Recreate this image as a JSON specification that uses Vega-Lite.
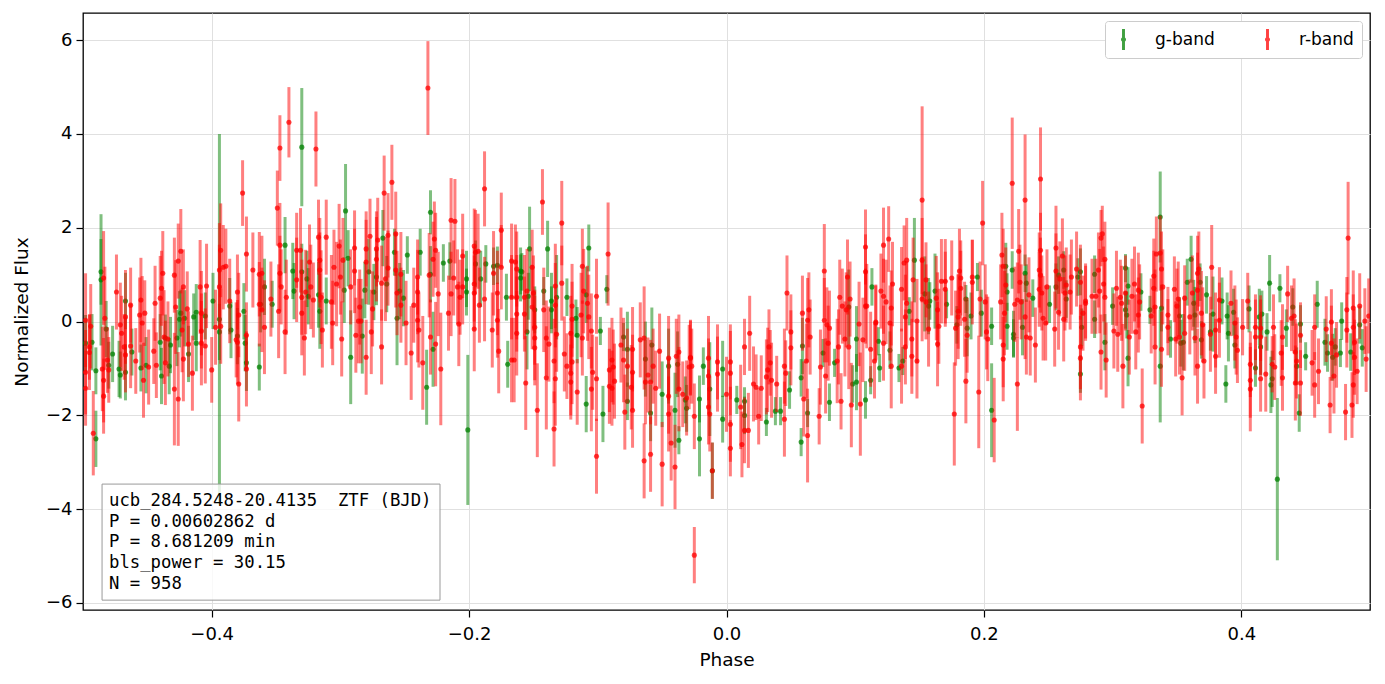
{
"$schema": "https://vega.github.io/schema/vega-lite/v6.json",
"width": 1287, "height": 597,
"autosize": {"type": "none"},
"padding": {"left": 83, "top": 13, "right": 15, "bottom": 74},
"background": "white",
"config": {
 "font": "DejaVu Sans",
 "view": {"stroke": "#000", "strokeWidth": 1.3},
 "axis": {"labelFontSize": 18, "titleFontSize": 18.5, "titleFontWeight": "normal", "labelColor": "#000", "titleColor": "#000", "tickColor": "#000", "tickSize": 7, "tickWidth": 1.2, "domain": false, "gridColor": "#e0e0e0", "gridWidth": 1}
},
"datasets": {
"g": [
{"p":-0.498,"f":-0.46,"e":0.6},{"p":-0.493,"f":-0.44,"e":0.6},{"p":-0.49,"f":-2.5,"e":0.6},{"p":-0.49,"f":-1.05,"e":0.5},{"p":-0.486,"f":1.06,"e":0.7},{"p":-0.486,"f":0.89,"e":1.4},{"p":-0.482,"f":-0.16,"e":0.6},{"p":-0.48,"f":-0.93,"e":0.5},{"p":-0.477,"f":-0.69,"e":0.6},{"p":-0.472,"f":-1.01,"e":0.6},{"p":-0.471,"f":-1.14,"e":0.5},{"p":-0.467,"f":0.44,"e":0.6},{"p":-0.467,"f":-1.08,"e":0.6},{"p":-0.462,"f":-0.65,"e":0.5},{"p":-0.455,"f":-0.99,"e":0.5},{"p":-0.451,"f":-0.93,"e":0.6},{"p":-0.44,"f":-0.44,"e":0.6},{"p":-0.439,"f":-1.16,"e":0.6},{"p":-0.436,"f":-0.35,"e":0.5},{"p":-0.432,"f":-0.5,"e":0.6},{"p":-0.433,"f":-0.95,"e":0.6},{"p":-0.427,"f":-0.35,"e":0.6},{"p":-0.425,"f":0.05,"e":0.6},{"p":-0.424,"f":0.18,"e":0.5},{"p":-0.421,"f":0.07,"e":0.6},{"p":-0.418,"f":-0.69,"e":0.6},{"p":-0.414,"f":0.1,"e":0.5},{"p":-0.412,"f":0.2,"e":0.6},{"p":-0.412,"f":-0.46,"e":0.6},{"p":-0.405,"f":0.12,"e":0.5},{"p":-0.399,"f":0.44,"e":0.6},{"p":-0.394,"f":0.05,"e":3.95},{"p":-0.394,"f":-0.22,"e":0.6},{"p":-0.386,"f":0.33,"e":0.6},{"p":-0.385,"f":-0.18,"e":0.6},{"p":-0.38,"f":-0.31,"e":0.6},{"p":-0.375,"f":0.22,"e":0.6},{"p":-0.374,"f":-0.46,"e":0.6},{"p":-0.373,"f":-0.88,"e":0.6},{"p":-0.363,"f":-0.97,"e":0.5},{"p":-0.359,"f":0.74,"e":0.6},{"p":-0.362,"f":0.37,"e":0.6},{"p":-0.353,"f":0.37,"e":0.5},{"p":-0.343,"f":1.63,"e":0.6},{"p":-0.337,"f":1.08,"e":0.6},{"p":-0.336,"f":0.65,"e":0.6},
{"p":-0.33,"f":3.72,"e":1.26},{"p":-0.33,"f":1.06,"e":0.6},{"p":-0.326,"f":0.91,"e":0.6},{"p":-0.325,"f":0.54,"e":0.6},{"p":-0.317,"f":0.57,"e":0.7},{"p":-0.316,"f":0.22,"e":0.8},{"p":-0.311,"f":0.44,"e":0.5},{"p":-0.297,"f":0.67,"e":0.7},{"p":-0.296,"f":2.36,"e":1.0},{"p":-0.294,"f":1.35,"e":0.6},{"p":-0.292,"f":-0.76,"e":1.0},{"p":-0.283,"f":-0.31,"e":0.8},{"p":-0.281,"f":0.67,"e":0.6},{"p":-0.278,"f":1.06,"e":0.7},{"p":-0.274,"f":0.63,"e":0.6},{"p":-0.272,"f":0.95,"e":0.6},{"p":-0.267,"f":1.78,"e":0.6},{"p":-0.264,"f":0.8,"e":0.6},{"p":-0.258,"f":1.48,"e":0.5},{"p":-0.256,"f":0.07,"e":1.0},{"p":-0.254,"f":0.65,"e":0.6},{"p":-0.251,"f":0.5,"e":0.6},{"p":-0.248,"f":1.42,"e":0.4},{"p":-0.238,"f":1.48,"e":0.5},{"p":-0.233,"f":-1.4,"e":0.8},{"p":-0.23,"f":2.33,"e":0.47},{"p":-0.23,"f":1.01,"e":0.6},{"p":-0.228,"f":-0.59,"e":0.8},{"p":-0.22,"f":1.25,"e":0.4},{"p":-0.215,"f":1.29,"e":0.4},{"p":-0.202,"f":0.91,"e":0.6},{"p":-0.202,"f":0.63,"e":0.5},{"p":-0.201,"f":-2.31,"e":1.6},{"p":-0.195,"f":1.23,"e":0.5},{"p":-0.191,"f":0.91,"e":0.6},{"p":-0.187,"f":1.23,"e":0.4},{"p":-0.181,"f":1.18,"e":0.4},{"p":-0.178,"f":1.2,"e":0.4},{"p":-0.171,"f":0.52,"e":0.5},{"p":-0.17,"f":-0.91,"e":0.5},
{"p":-0.16,"f":1.08,"e":0.5},{"p":-0.16,"f":0.93,"e":0.5},{"p":-0.159,"f":1.06,"e":0.4},{"p":-0.155,"f":-0.22,"e":0.8},{"p":-0.154,"f":0.54,"e":0.5},{"p":-0.153,"f":1.55,"e":0.9},{"p":-0.149,"f":0.25,"e":0.5},{"p":-0.142,"f":0.65,"e":0.3},{"p":-0.139,"f":1.55,"e":0.6},{"p":-0.136,"f":0.44,"e":0.6},{"p":-0.136,"f":0.25,"e":0.5},{"p":-0.132,"f":0.52,"e":0.9},{"p":-0.124,"f":0.52,"e":0.4},{"p":-0.117,"f":0.07,"e":0.4},{"p":-0.116,"f":-0.29,"e":0.6},{"p":-0.109,"f":-1.76,"e":0.6},{"p":-0.109,"f":0.57,"e":0.6},{"p":-0.107,"f":1.57,"e":0.5},{"p":-0.098,"f":-0.2,"e":0.3},{"p":-0.096,"f":-1.97,"e":0.6},{"p":-0.093,"f":0.69,"e":0.3},{"p":-0.08,"f":-0.33,"e":0.3},{"p":-0.077,"f":-0.59,"e":0.8},{"p":-0.077,"f":-1.7,"e":0.4},{"p":-0.063,"f":-0.8,"e":0.8},{"p":-0.059,"f":-1.95,"e":0.6},{"p":-0.058,"f":-0.5,"e":0.8},{"p":-0.05,"f":-1.55,"e":0.7},{"p":-0.045,"f":-0.95,"e":0.8},{"p":-0.04,"f":-1.89,"e":0.8},{"p":-0.038,"f":-0.91,"e":0.7},{"p":-0.037,"f":-2.53,"e":0.3},{"p":-0.032,"f":-1.67,"e":0.5},{"p":-0.031,"f":-1.85,"e":0.5},{"p":-0.021,"f":-1.65,"e":0.5},{"p":-0.021,"f":-2.5,"e":0.8},{"p":-0.018,"f":-0.95,"e":0.4},{"p":-0.013,"f":-1.44,"e":1.0},{"p":-0.011,"f":-3.18,"e":0.6},{"p":-0.003,"f":-2.08,"e":0.5},{"p":-0.003,"f":-1.01,"e":0.6},
{"p":0.008,"f":-1.67,"e":0.3},{"p":0.014,"f":-1.7,"e":0.3},{"p":0.014,"f":-2.0,"e":0.4},{"p":0.031,"f":-2.14,"e":0.3},{"p":0.038,"f":-1.91,"e":0.3},{"p":0.042,"f":-1.91,"e":0.3},{"p":0.049,"f":-1.46,"e":0.4},{"p":0.058,"f":-2.57,"e":0.3},{"p":0.058,"f":-1.2,"e":0.4},{"p":0.059,"f":-0.52,"e":0.6},{"p":0.063,"f":-1.95,"e":0.3},{"p":0.075,"f":-0.67,"e":0.3},{"p":0.08,"f":-1.72,"e":0.4},{"p":0.084,"f":-0.88,"e":0.3},{"p":0.095,"f":0.31,"e":0.8},{"p":0.098,"f":-1.33,"e":0.4},{"p":0.101,"f":-1.29,"e":0.6},{"p":0.101,"f":-0.37,"e":0.7},{"p":0.108,"f":-1.67,"e":0.4},{"p":0.112,"f":-1.25,"e":0.3},{"p":0.113,"f":0.74,"e":0.4},{"p":0.118,"f":-0.42,"e":0.3},{"p":0.119,"f":-0.99,"e":0.3},{"p":0.127,"f":-0.61,"e":0.4},{"p":0.134,"f":-0.99,"e":0.3},{"p":0.137,"f":-0.84,"e":0.3},{"p":0.142,"f":0.22,"e":0.3},{"p":0.146,"f":1.31,"e":0.9},{"p":0.154,"f":0.59,"e":0.8},{"p":0.157,"f":0.33,"e":0.6},{"p":0.158,"f":0.44,"e":0.4},{"p":0.162,"f":0.65,"e":0.8},
{"p":0.171,"f":0.37,"e":0.3},{"p":0.179,"f":-0.07,"e":0.4},{"p":0.186,"f":0.48,"e":0.3},{"p":0.187,"f":-0.14,"e":0.6},{"p":0.19,"f":0.12,"e":0.5},{"p":0.195,"f":0.95,"e":0.3},{"p":0.198,"f":0.18,"e":0.5},{"p":0.206,"f":-0.1,"e":0.4},{"p":0.206,"f":-1.89,"e":1.0},{"p":0.217,"f":1.18,"e":0.5},{"p":0.218,"f":0.63,"e":0.4},{"p":0.218,"f":-0.1,"e":0.5},{"p":0.222,"f":1.1,"e":0.4},{"p":0.223,"f":-0.27,"e":0.5},{"p":0.223,"f":-0.35,"e":0.4},{"p":0.23,"f":-0.12,"e":0.6},{"p":0.232,"f":1.03,"e":0.4},{"p":0.233,"f":0.82,"e":0.4},{"p":0.238,"f":0.5,"e":0.4},{"p":0.251,"f":0.37,"e":0.4},{"p":0.256,"f":0.74,"e":0.5},{"p":0.258,"f":0.99,"e":0.4},{"p":0.262,"f":1.1,"e":0.4},{"p":0.264,"f":0.48,"e":0.4},{"p":0.273,"f":0.95,"e":0.4},{"p":0.275,"f":1.06,"e":0.5},{"p":0.275,"f":-1.12,"e":0.4},{"p":0.276,"f":-0.12,"e":0.4},{"p":0.286,"f":1.01,"e":0.4},{"p":0.286,"f":0.05,"e":0.4},{"p":0.294,"f":-0.44,"e":0.6},{"p":0.3,"f":0.33,"e":0.4},{"p":0.31,"f":0.25,"e":0.4},{"p":0.31,"f":1.14,"e":0.3},{"p":0.311,"f":0.14,"e":0.5},{"p":0.312,"f":0.76,"e":0.4},{"p":0.312,"f":-0.78,"e":0.6},{"p":0.322,"f":0.63,"e":0.4},{"p":0.329,"f":0.25,"e":0.3},
{"p":0.337,"f":2.23,"e":0.97},{"p":0.338,"f":0.29,"e":0.5},{"p":0.337,"f":-0.95,"e":1.2},{"p":0.345,"f":-0.37,"e":0.4},{"p":0.352,"f":0.12,"e":0.4},{"p":0.353,"f":-0.46,"e":0.5},{"p":0.355,"f":-0.44,"e":0.6},{"p":0.358,"f":0.84,"e":0.5},{"p":0.361,"f":1.33,"e":0.5},{"p":0.363,"f":0.39,"e":0.5},{"p":0.364,"f":0.14,"e":0.6},{"p":0.368,"f":0.84,"e":0.4},{"p":0.369,"f":-0.39,"e":0.4},{"p":0.373,"f":0.57,"e":0.4},{"p":0.376,"f":-0.22,"e":0.4},{"p":0.378,"f":0.16,"e":0.8},{"p":0.385,"f":0.44,"e":0.5},{"p":0.388,"f":-1.33,"e":0.4},{"p":0.389,"f":0.12,"e":0.5},{"p":0.39,"f":-0.25,"e":0.6},{"p":0.394,"f":0.2,"e":0.5},{"p":0.395,"f":-0.5,"e":0.5},{"p":0.406,"f":0.27,"e":0.5},{"p":0.411,"f":-0.99,"e":0.4},{"p":0.414,"f":0.1,"e":0.6},{"p":0.415,"f":-0.54,"e":0.6},{"p":0.416,"f":0.16,"e":0.5},{"p":0.42,"f":-0.22,"e":0.4},{"p":0.422,"f":0.82,"e":0.6},{"p":0.424,"f":-1.22,"e":0.6},{"p":0.423,"f":-1.35,"e":0.6},{"p":0.428,"f":-3.36,"e":1.73},{"p":0.43,"f":0.71,"e":0.3},{"p":0.435,"f":-0.14,"e":0.4},{"p":0.44,"f":0.31,"e":0.4},{"p":0.443,"f":-0.95,"e":0.4},{"p":0.445,"f":-1.95,"e":0.4},{"p":0.446,"f":-0.05,"e":0.4},{"p":0.45,"f":-0.74,"e":0.3},{"p":0.459,"f":0.37,"e":0.5},{"p":0.465,"f":-0.44,"e":0.5},{"p":0.467,"f":-0.67,"e":0.4},{"p":0.471,"f":-0.76,"e":0.5},{"p":0.473,"f":-0.54,"e":0.4},{"p":0.477,"f":-0.67,"e":0.3},{"p":0.478,"f":0.01,"e":0.4},{"p":0.485,"f":-0.65,"e":0.4},{"p":0.492,"f":-0.07,"e":0.4},{"p":0.494,"f":-0.56,"e":0.4}
],
"r": [
{"p":-0.498,"f":0.03,"e":1.0},{"p":-0.498,"f":-1.08,"e":0.9},{"p":-0.498,"f":-1.42,"e":0.8},{"p":-0.495,"f":-0.54,"e":0.7},{"p":-0.495,"f":-0.66,"e":0.8},{"p":-0.494,"f":-0.1,"e":0.9},{"p":-0.492,"f":-2.38,"e":0.9},{"p":-0.484,"f":0.93,"e":1.0},{"p":-0.483,"f":0.07,"e":1.1},{"p":-0.481,"f":-0.82,"e":0.7},{"p":-0.484,"f":-1.25,"e":0.9},{"p":-0.484,"f":-1.59,"e":0.8},{"p":-0.485,"f":-1.01,"e":0.9},{"p":-0.48,"f":-1.03,"e":0.7},{"p":-0.474,"f":0.63,"e":0.8},{"p":-0.471,"f":-0.07,"e":0.9},{"p":-0.47,"f":-0.25,"e":0.8},{"p":-0.468,"f":-0.54,"e":0.7},{"p":-0.467,"f":0.1,"e":1.0},{"p":-0.467,"f":-0.71,"e":0.8},{"p":-0.463,"f":-0.52,"e":0.9},{"p":-0.463,"f":0.35,"e":0.8},{"p":-0.459,"f":-0.84,"e":0.7},{"p":-0.456,"f":0.14,"e":0.8},{"p":-0.455,"f":0.46,"e":0.9},{"p":-0.454,"f":-0.03,"e":1.0},{"p":-0.453,"f":-1.25,"e":0.8},{"p":-0.452,"f":0.18,"e":0.7},{"p":-0.449,"f":-0.97,"e":0.8},{"p":-0.445,"f":-0.63,"e":0.7},{"p":-0.444,"f":0.39,"e":0.8},{"p":-0.443,"f":-0.93,"e":0.7},{"p":-0.44,"f":0.5,"e":0.9},{"p":-0.439,"f":0.71,"e":0.8},{"p":-0.438,"f":1.03,"e":0.9},{"p":-0.437,"f":-0.33,"e":1.0},{"p":-0.436,"f":-0.88,"e":0.9},{"p":-0.434,"f":-0.37,"e":0.8},{"p":-0.429,"f":-1.44,"e":1.2},{"p":-0.426,"f":-1.65,"e":1.0},{"p":-0.429,"f":0.99,"e":0.8},{"p":-0.426,"f":1.29,"e":0.8},{"p":-0.424,"f":1.5,"e":0.9},{"p":-0.428,"f":0.31,"e":1.0},{"p":-0.422,"f":0.74,"e":0.8},{"p":-0.423,"f":-0.18,"e":0.9},{"p":-0.419,"f":0.27,"e":0.8},{"p":-0.418,"f":-0.48,"e":0.7},{"p":-0.422,"f":-0.8,"e":0.9},{"p":-0.415,"f":-1.1,"e":0.8},{"p":-0.409,"f":0.74,"e":1.0},{"p":-0.408,"f":0.18,"e":0.9},{"p":-0.408,"f":-0.2,"e":0.8},{"p":-0.408,"f":-0.46,"e":0.9},{"p":-0.405,"f":-0.52,"e":0.8},{"p":-0.404,"f":0.76,"e":0.9},{"p":-0.4,"f":-1.03,"e":0.7},{"p":-0.397,"f":-0.12,"e":0.8},{"p":-0.394,"f":0.74,"e":0.9},{"p":-0.394,"f":1.1,"e":1.0},{"p":-0.393,"f":1.52,"e":1.0},{"p":-0.391,"f":1.16,"e":0.9},{"p":-0.389,"f":1.18,"e":0.8},{"p":-0.393,"f":-0.1,"e":0.8},{"p":-0.386,"f":0.44,"e":0.9},{"p":-0.38,"f":0.63,"e":0.8},{"p":-0.379,"f":0.14,"e":0.9},{"p":-0.381,"f":-0.39,"e":0.8},{"p":-0.38,"f":-0.44,"e":0.9},{"p":-0.379,"f":-1.33,"e":0.8},{"p":-0.376,"f":2.74,"e":0.7},{"p":-0.373,"f":1.44,"e":0.8},{"p":-0.373,"f":-0.29,"e":0.7},{"p":-0.373,"f":-1.01,"e":0.8},{"p":-0.368,"f":1.1,"e":0.8},{"p":-0.363,"f":1.01,"e":0.9},{"p":-0.363,"f":0.37,"e":0.9},{"p":-0.361,"f":1.03,"e":0.8},{"p":-0.361,"f":0.25,"e":0.9},{"p":-0.359,"f":-0.12,"e":1.0},{"p":-0.354,"f":0.48,"e":0.8},{"p":-0.349,"f":2.42,"e":0.8},{"p":-0.347,"f":3.7,"e":0.7},{"p":-0.34,"f":4.25,"e":0.75},{"p":-0.347,"f":1.63,"e":0.9},{"p":-0.347,"f":1.03,"e":0.8},{"p":-0.346,"f":0.74,"e":0.8},{"p":-0.348,"f":0.22,"e":1.0},{"p":-0.343,"f":-0.22,"e":0.9},{"p":-0.342,"f":0.52,"e":0.8},{"p":-0.334,"f":1.52,"e":0.8},{"p":-0.334,"f":0.89,"e":0.9},
{"p":-0.319,"f":3.68,"e":0.8},{"p":-0.331,"f":1.52,"e":0.9},{"p":-0.33,"f":0.52,"e":0.8},{"p":-0.33,"f":0.18,"e":0.9},{"p":-0.328,"f":-0.35,"e":0.8},{"p":-0.327,"f":0.63,"e":0.9},{"p":-0.324,"f":1.27,"e":0.8},{"p":-0.323,"f":0.74,"e":0.9},{"p":-0.321,"f":0.46,"e":0.8},{"p":-0.317,"f":1.8,"e":0.8},{"p":-0.316,"f":1.31,"e":0.9},{"p":-0.316,"f":1.1,"e":0.8},{"p":-0.315,"f":0.52,"e":1.0},{"p":-0.314,"f":-0.18,"e":0.8},{"p":-0.311,"f":1.8,"e":0.8},{"p":-0.307,"f":0.42,"e":1.0},{"p":-0.306,"f":-0.03,"e":0.9},{"p":-0.305,"f":1.16,"e":0.8},{"p":-0.303,"f":0.8,"e":0.9},{"p":-0.301,"f":1.61,"e":0.9},{"p":-0.3,"f":0.95,"e":0.8},{"p":-0.299,"f":-0.37,"e":0.8},{"p":-0.298,"f":1.31,"e":0.9},{"p":-0.292,"f":0.74,"e":0.8},{"p":-0.289,"f":1.08,"e":0.9},{"p":-0.289,"f":1.57,"e":0.8},{"p":-0.288,"f":-0.29,"e":0.8},{"p":-0.286,"f":0.01,"e":0.9},{"p":-0.285,"f":0.31,"e":0.8},{"p":-0.284,"f":0.01,"e":0.9},{"p":-0.28,"f":1.55,"e":0.8},{"p":-0.28,"f":1.27,"e":0.9},{"p":-0.28,"f":-0.76,"e":0.8},{"p":-0.277,"f":1.82,"e":0.8},{"p":-0.276,"f":-0.22,"e":0.9},{"p":-0.275,"f":0.27,"e":0.8},{"p":-0.272,"f":1.33,"e":0.9},{"p":-0.272,"f":1.55,"e":0.8},{"p":-0.271,"f":1.74,"e":0.9},{"p":-0.268,"f":0.82,"e":0.8},{"p":-0.268,"f":-0.54,"e":0.8},{"p":-0.266,"f":2.74,"e":0.8},{"p":-0.265,"f":0.91,"e":0.9},{"p":-0.263,"f":1.84,"e":0.9},{"p":-0.263,"f":1.14,"e":0.8},{"p":-0.26,"f":2.97,"e":0.8},{"p":-0.257,"f":1.87,"e":0.9},{"p":-0.257,"f":1.1,"e":0.8},{"p":-0.256,"f":0.61,"e":0.9},{"p":-0.253,"f":1.01,"e":0.9},{"p":-0.253,"f":0.35,"e":0.8},{"p":-0.249,"f":-0.03,"e":0.9},{"p":-0.245,"f":-0.67,"e":1.0},{"p":-0.243,"f":0.35,"e":0.8},{"p":-0.24,"f":0.95,"e":0.8},{"p":-0.24,"f":0.63,"e":0.9},{"p":-0.24,"f":0.03,"e":0.9},{"p":-0.239,"f":-0.18,"e":0.8},{"p":-0.236,"f":-0.88,"e":1.0},{"p":-0.232,"f":4.98,"e":1.0},{"p":-0.231,"f":0.99,"e":0.9},{"p":-0.23,"f":-0.33,"e":0.8},{"p":-0.228,"f":1.33,"e":0.8},{"p":-0.227,"f":1.76,"e":0.8},{"p":-0.226,"f":-0.48,"e":0.9},{"p":-0.226,"f":1.52,"e":0.8},{"p":-0.224,"f":0.59,"e":0.9},{"p":-0.222,"f":-1.01,"e":1.2},{"p":-0.216,"f":0.18,"e":0.8},{"p":-0.214,"f":2.16,"e":0.9},{"p":-0.211,"f":2.14,"e":0.9},{"p":-0.212,"f":0.93,"e":0.8},{"p":-0.214,"f":0.59,"e":0.9},{"p":-0.209,"f":0.74,"e":0.8},{"p":-0.208,"f":-0.05,"e":0.9},{"p":-0.207,"f":0.52,"e":0.8},{"p":-0.205,"f":1.4,"e":0.9},{"p":-0.205,"f":0.74,"e":0.8},{"p":-0.196,"f":1.61,"e":0.8},{"p":-0.196,"f":0.8,"e":0.8},{"p":-0.196,"f":-0.16,"e":0.9},{"p":-0.196,"f":0.61,"e":0.8},{"p":-0.195,"f":1.48,"e":0.9},{"p":-0.193,"f":1.5,"e":0.8},{"p":-0.192,"f":0.35,"e":0.8},{"p":-0.188,"f":0.48,"e":0.9},{"p":-0.188,"f":2.83,"e":0.8},{"p":-0.182,"f":-0.18,"e":0.8},{"p":-0.181,"f":1.03,"e":0.9},{"p":-0.178,"f":0.61,"e":0.9},{"p":-0.178,"f":0.03,"e":0.8},{"p":-0.177,"f":-0.63,"e":0.9},{"p":-0.175,"f":1.95,"e":0.8},{"p":-0.175,"f":1.16,"e":0.9},{"p":-0.167,"f":1.29,"e":0.8},{"p":-0.167,"f":0.52,"e":0.9},{"p":-0.167,"f":-0.82,"e":0.9},
{"p":-0.164,"f":1.27,"e":0.8},{"p":-0.163,"f":0.52,"e":0.9},{"p":-0.163,"f":0.16,"e":0.8},{"p":-0.163,"f":-0.25,"e":0.9},{"p":-0.165,"f":-0.82,"e":0.9},{"p":-0.163,"f":1.12,"e":0.8},{"p":-0.157,"f":0.52,"e":0.9},{"p":-0.157,"f":0.16,"e":0.8},{"p":-0.156,"f":-1.31,"e":1.0},{"p":-0.155,"f":0.65,"e":0.9},{"p":-0.151,"f":1.16,"e":0.8},{"p":-0.151,"f":0.31,"e":0.9},{"p":-0.15,"f":0.61,"e":0.8},{"p":-0.149,"f":-0.12,"e":0.8},{"p":-0.149,"f":-0.35,"e":0.9},{"p":-0.149,"f":-0.56,"e":0.8},{"p":-0.147,"f":-1.89,"e":1.0},{"p":-0.143,"f":2.55,"e":0.7},{"p":-0.142,"f":0.25,"e":0.9},{"p":-0.14,"f":-0.35,"e":0.8},{"p":-0.14,"f":-1.2,"e":1.1},{"p":-0.138,"f":-0.48,"e":0.8},{"p":-0.134,"f":-0.84,"e":0.9},{"p":-0.133,"f":-1.22,"e":1.0},{"p":-0.134,"f":-2.29,"e":0.8},{"p":-0.133,"f":0.76,"e":0.9},{"p":-0.133,"f":0.35,"e":0.9},{"p":-0.132,"f":-0.27,"e":0.8},{"p":-0.128,"f":2.1,"e":0.9},{"p":-0.128,"f":0.82,"e":0.8},{"p":-0.126,"f":-0.69,"e":0.8},{"p":-0.124,"f":-0.95,"e":0.7},{"p":-0.121,"f":-0.25,"e":0.8},{"p":-0.121,"f":-1.1,"e":0.9},{"p":-0.121,"f":-1.29,"e":0.8},{"p":-0.12,"f":0.33,"e":0.9},{"p":-0.12,"f":0.05,"e":0.8},{"p":-0.12,"f":-0.86,"e":0.9},{"p":-0.116,"f":-1.5,"e":0.7},{"p":-0.113,"f":0.14,"e":0.9},{"p":-0.112,"f":1.18,"e":0.8},{"p":-0.112,"f":-0.35,"e":0.8},{"p":-0.111,"f":0.65,"e":0.9},{"p":-0.108,"f":0.39,"e":0.8},{"p":-0.107,"f":0.1,"e":0.9},{"p":-0.105,"f":-0.2,"e":0.8},{"p":-0.105,"f":-1.44,"e":0.9},{"p":-0.104,"f":-1.08,"e":0.8},{"p":-0.101,"f":-2.87,"e":0.8},{"p":-0.101,"f":-1.22,"e":0.9},{"p":-0.101,"f":0.54,"e":0.8},{"p":-0.092,"f":1.44,"e":1.1},{"p":-0.091,"f":-1.03,"e":0.9},{"p":-0.091,"f":-1.38,"e":0.8},{"p":-0.089,"f":-0.82,"e":0.9},{"p":-0.088,"f":-0.97,"e":0.8},{"p":-0.087,"f":-1.27,"e":0.8},{"p":-0.089,"f":-1.42,"e":0.8},{"p":-0.082,"f":-0.5,"e":0.8},{"p":-0.08,"f":-0.82,"e":0.9},{"p":-0.079,"f":-1.93,"e":0.8},{"p":-0.077,"f":-0.95,"e":0.8},{"p":-0.074,"f":-1.4,"e":0.9},{"p":-0.073,"f":-0.59,"e":0.9},{"p":-0.073,"f":-1.08,"e":0.8},{"p":-0.073,"f":-1.89,"e":0.8},{"p":-0.067,"f":-0.39,"e":0.8},{"p":-0.064,"f":-0.35,"e":1.1},{"p":-0.064,"f":-2.97,"e":0.8},{"p":-0.063,"f":-1.29,"e":0.9},{"p":-0.061,"f":-1.14,"e":0.8},{"p":-0.059,"f":-2.83,"e":0.8},{"p":-0.059,"f":-1.29,"e":0.9},{"p":-0.057,"f":-0.95,"e":0.8},{"p":-0.055,"f":-1.42,"e":0.8},{"p":-0.052,"f":-0.63,"e":0.8},{"p":-0.05,"f":-3.04,"e":0.9},{"p":-0.045,"f":-1.59,"e":0.8},{"p":-0.045,"f":-1.97,"e":0.8},{"p":-0.045,"f":-0.78,"e":0.9},{"p":-0.043,"f":-2.59,"e":0.8},{"p":-0.04,"f":-3.1,"e":0.9},{"p":-0.039,"f":-0.74,"e":0.8},{"p":-0.037,"f":-0.65,"e":0.8},{"p":-0.037,"f":-1.44,"e":0.9},{"p":-0.034,"f":-1.55,"e":0.7},{"p":-0.031,"f":-1.63,"e":0.8},{"p":-0.029,"f":-0.97,"e":0.9},{"p":-0.028,"f":-0.78,"e":0.8},{"p":-0.028,"f":-0.76,"e":0.8},{"p":-0.027,"f":-0.95,"e":0.8},{"p":-0.025,"f":-2.02,"e":0.7},{"p":-0.025,"f":-4.98,"e":0.6},{"p":-0.014,"f":-1.82,"e":0.8},{"p":-0.014,"f":-0.78,"e":0.9},{"p":-0.014,"f":-1.16,"e":0.8},{"p":-0.013,"f":-1.97,"e":0.8},{"p":-0.011,"f":-3.18,"e":0.6},{"p":-0.007,"f":-0.86,"e":0.8},{"p":-0.007,"f":-1.12,"e":0.8},{"p":0.0,"f":-1.55,"e":0.8},
{"p":0.003,"f":-0.86,"e":0.8},{"p":0.003,"f":-1.1,"e":0.9},{"p":0.003,"f":-2.19,"e":0.8},{"p":0.003,"f":-2.7,"e":0.6},{"p":0.012,"f":-2.62,"e":0.7},{"p":0.011,"f":-1.82,"e":0.9},{"p":0.014,"f":-0.54,"e":0.6},{"p":0.014,"f":-2.32,"e":0.7},{"p":0.017,"f":-2.32,"e":0.8},{"p":0.018,"f":-0.25,"e":0.8},{"p":0.021,"f":-1.33,"e":0.8},{"p":0.023,"f":-1.4,"e":0.7},{"p":0.025,"f":-2.02,"e":0.6},{"p":0.027,"f":-1.42,"e":0.7},{"p":0.031,"f":-1.18,"e":0.8},{"p":0.032,"f":-1.03,"e":0.9},{"p":0.033,"f":-0.54,"e":0.8},{"p":0.034,"f":-0.88,"e":0.7},{"p":0.035,"f":-1.25,"e":0.8},{"p":0.039,"f":-1.33,"e":0.6},{"p":0.045,"f":-2.08,"e":0.8},{"p":0.045,"f":-0.95,"e":0.8},{"p":0.046,"f":-1.1,"e":0.7},{"p":0.047,"f":0.61,"e":0.8},{"p":0.05,"f":-0.22,"e":0.8},{"p":0.05,"f":-0.56,"e":0.8},{"p":0.059,"f":0.18,"e":0.8},{"p":0.06,"f":-1.65,"e":0.8},{"p":0.062,"f":-0.84,"e":0.8},{"p":0.063,"f":0.03,"e":0.9},{"p":0.063,"f":-2.43,"e":1.0},{"p":0.064,"f":0.25,"e":0.8},{"p":0.065,"f":-0.33,"e":0.8},{"p":0.072,"f":-2.02,"e":0.6},{"p":0.073,"f":-0.97,"e":0.8},{"p":0.076,"f":1.08,"e":1.0},{"p":0.076,"f":0.03,"e":0.9},{"p":0.077,"f":-1.16,"e":0.8},{"p":0.078,"f":-0.07,"e":0.8},{"p":0.079,"f":-0.46,"e":0.8},{"p":0.08,"f":-0.14,"e":0.8},{"p":0.086,"f":-0.84,"e":0.9},{"p":0.087,"f":-0.54,"e":0.8},{"p":0.088,"f":0.52,"e":0.8},{"p":0.089,"f":-1.7,"e":0.6},{"p":0.09,"f":0.33,"e":0.8},{"p":0.092,"f":-0.37,"e":0.8},{"p":0.093,"f":0.25,"e":0.8},{"p":0.094,"f":0.95,"e":0.8},{"p":0.095,"f":-0.54,"e":0.9},{"p":0.096,"f":0.48,"e":0.8},{"p":0.097,"f":-1.78,"e":0.9},{"p":0.103,"f":-0.05,"e":0.9},{"p":0.104,"f":-1.76,"e":1.1},{"p":0.106,"f":-0.39,"e":0.9},{"p":0.108,"f":1.06,"e":0.8},{"p":0.108,"f":1.59,"e":0.8},{"p":0.108,"f":0.33,"e":0.8},{"p":0.109,"f":0.33,"e":0.9},{"p":0.112,"f":-0.59,"e":0.8},{"p":0.115,"f":-0.84,"e":0.8},{"p":0.116,"f":-0.03,"e":0.8},{"p":0.116,"f":-0.01,"e":0.8},{"p":0.12,"f":0.65,"e":0.8},{"p":0.122,"f":-0.46,"e":0.8},{"p":0.122,"f":1.63,"e":0.8},{"p":0.122,"f":0.54,"e":0.8},{"p":0.124,"f":0.42,"e":0.9},{"p":0.126,"f":1.76,"e":0.7},{"p":0.127,"f":-0.03,"e":0.8},{"p":0.128,"f":-0.95,"e":0.9},{"p":0.128,"f":0.29,"e":0.8},{"p":0.129,"f":0.8,"e":0.9},{"p":0.136,"f":0.69,"e":0.9},{"p":0.136,"f":-0.95,"e":0.8},{"p":0.138,"f":1.25,"e":0.8},{"p":0.139,"f":-0.54,"e":0.8},{"p":0.139,"f":0.1,"e":0.9},{"p":0.14,"f":1.31,"e":0.9},{"p":0.14,"f":0.39,"e":0.9},{"p":0.144,"f":-0.37,"e":0.8},{"p":0.144,"f":-0.74,"e":0.8},{"p":0.145,"f":0.89,"e":0.9},{"p":0.148,"f":-0.84,"e":0.8},{"p":0.148,"f":0.01,"e":0.9},{"p":0.152,"f":2.59,"e":2.0},{"p":0.152,"f":1.31,"e":0.9},{"p":0.152,"f":0.48,"e":0.9},{"p":0.155,"f":0.89,"e":0.8},{"p":0.155,"f":0.42,"e":0.8},{"p":0.157,"f":-0.16,"e":0.8},{"p":0.163,"f":0.5,"e":0.9},{"p":0.164,"f":0.25,"e":0.8},{"p":0.164,"f":-0.48,"e":0.9},{"p":0.165,"f":-0.1,"e":0.8},{"p":0.167,"f":0.86,"e":0.9},
{"p":0.17,"f":0.86,"e":0.9},{"p":0.17,"f":0.69,"e":0.8},{"p":0.175,"f":0.93,"e":0.8},{"p":0.177,"f":-1.97,"e":1.1},{"p":0.178,"f":-0.14,"e":0.8},{"p":0.18,"f":0.22,"e":0.8},{"p":0.18,"f":0.1,"e":0.9},{"p":0.181,"f":1.08,"e":0.9},{"p":0.182,"f":0.93,"e":0.8},{"p":0.182,"f":0.71,"e":0.8},{"p":0.186,"f":-1.27,"e":0.9},{"p":0.185,"f":0.05,"e":0.8},{"p":0.187,"f":-0.29,"e":0.8},{"p":0.191,"f":0.84,"e":0.9},{"p":0.191,"f":0.95,"e":0.8},{"p":0.196,"f":-1.5,"e":1.2},{"p":0.197,"f":0.48,"e":0.8},{"p":0.199,"f":2.1,"e":0.9},{"p":0.201,"f":0.42,"e":0.8},{"p":0.202,"f":-0.22,"e":0.8},{"p":0.203,"f":-0.37,"e":0.9},{"p":0.208,"f":-2.1,"e":0.9},{"p":0.213,"f":0.42,"e":0.8},{"p":0.214,"f":1.42,"e":0.9},{"p":0.215,"f":-0.5,"e":0.9},{"p":0.215,"f":-0.8,"e":0.9},{"p":0.215,"f":1.18,"e":0.8},{"p":0.216,"f":0.18,"e":0.9},{"p":0.217,"f":0.78,"e":0.8},{"p":0.222,"f":2.95,"e":1.4},{"p":0.224,"f":0.37,"e":0.8},{"p":0.226,"f":0.46,"e":0.8},{"p":0.226,"f":-1.33,"e":1.0},{"p":0.227,"f":1.5,"e":0.9},{"p":0.228,"f":0.84,"e":0.8},{"p":0.229,"f":0.42,"e":0.8},{"p":0.232,"f":2.59,"e":1.4},{"p":0.232,"f":0.1,"e":0.9},{"p":0.233,"f":-0.33,"e":0.8},{"p":0.235,"f":0.57,"e":0.8},{"p":0.236,"f":-0.35,"e":0.8},{"p":0.24,"f":-0.5,"e":0.8},{"p":0.243,"f":1.1,"e":0.8},{"p":0.244,"f":0.99,"e":0.8},{"p":0.243,"f":0.69,"e":0.8},{"p":0.244,"f":3.04,"e":1.1},{"p":0.244,"f":1.52,"e":0.8},{"p":0.245,"f":0.61,"e":0.8},{"p":0.246,"f":0.07,"e":0.9},{"p":0.248,"f":-0.03,"e":0.8},{"p":0.249,"f":0.74,"e":0.8},{"p":0.255,"f":-0.16,"e":0.8},{"p":0.256,"f":1.08,"e":0.8},{"p":0.256,"f":1.57,"e":0.9},{"p":0.258,"f":0.2,"e":0.8},{"p":0.259,"f":0.91,"e":0.8},{"p":0.261,"f":1.4,"e":0.8},{"p":0.262,"f":0.05,"e":0.9},{"p":0.263,"f":0.61,"e":0.8},{"p":0.264,"f":0.78,"e":0.8},{"p":0.267,"f":0.63,"e":0.8},{"p":0.268,"f":0.95,"e":0.8},{"p":0.272,"f":1.12,"e":0.8},{"p":0.275,"f":-0.54,"e":0.9},{"p":0.275,"f":-0.78,"e":0.9},{"p":0.275,"f":0.84,"e":0.8},{"p":0.277,"f":0.18,"e":0.8},{"p":0.279,"f":0.39,"e":0.8},{"p":0.279,"f":0.44,"e":0.8},{"p":0.284,"f":0.54,"e":0.8},{"p":0.287,"f":0.54,"e":0.8},{"p":0.289,"f":1.1,"e":0.8},{"p":0.29,"f":0.65,"e":0.9},{"p":0.291,"f":1.78,"e":0.6},{"p":0.292,"f":1.87,"e":0.6},{"p":0.291,"f":-0.65,"e":0.8},{"p":0.293,"f":0.8,"e":0.8},{"p":0.294,"f":0.52,"e":0.8},{"p":0.294,"f":1.33,"e":0.8},{"p":0.295,"f":-0.82,"e":0.8},{"p":0.301,"f":-0.2,"e":0.8},{"p":0.303,"f":0.71,"e":0.8},{"p":0.304,"f":-0.27,"e":0.8},{"p":0.306,"f":0.52,"e":0.8},{"p":0.307,"f":0.39,"e":0.8},{"p":0.308,"f":-0.95,"e":0.9},{"p":0.31,"f":0.61,"e":0.8},{"p":0.313,"f":-0.33,"e":0.8},{"p":0.315,"f":0.54,"e":0.8},{"p":0.317,"f":0.8,"e":0.8},{"p":0.318,"f":-0.22,"e":0.8},{"p":0.32,"f":0.67,"e":0.8},{"p":0.32,"f":0.14,"e":0.8},{"p":0.321,"f":0.42,"e":0.8},{"p":0.323,"f":-1.8,"e":0.8},{"p":0.33,"f":0.12,"e":0.8},{"p":0.332,"f":0.71,"e":0.8},{"p":0.332,"f":0.97,"e":0.8},{"p":0.333,"f":-0.54,"e":0.8},{"p":0.333,"f":0.31,"e":0.8},{"p":0.334,"f":1.44,"e":0.8},
{"p":0.337,"f":1.46,"e":0.8},{"p":0.338,"f":1.12,"e":0.8},{"p":0.339,"f":0.74,"e":0.8},{"p":0.338,"f":-0.59,"e":0.8},{"p":0.343,"f":0.14,"e":0.6},{"p":0.343,"f":-0.12,"e":0.6},{"p":0.348,"f":0.69,"e":0.7},{"p":0.35,"f":0.33,"e":0.8},{"p":0.349,"f":-0.37,"e":0.8},{"p":0.351,"f":0.48,"e":0.8},{"p":0.352,"f":-0.33,"e":0.8},{"p":0.354,"f":-1.2,"e":0.8},{"p":0.356,"f":0.5,"e":0.7},{"p":0.356,"f":-0.25,"e":0.8},{"p":0.36,"f":0.1,"e":0.8},{"p":0.362,"f":0.61,"e":0.8},{"p":0.364,"f":-0.35,"e":0.8},{"p":0.366,"f":-0.95,"e":0.8},{"p":0.366,"f":1.03,"e":0.8},{"p":0.367,"f":1.12,"e":0.8},{"p":0.366,"f":0.67,"e":0.8},{"p":0.369,"f":0.18,"e":0.9},{"p":0.37,"f":-0.07,"e":0.8},{"p":0.371,"f":-0.84,"e":0.8},{"p":0.376,"f":-0.27,"e":0.8},{"p":0.377,"f":1.16,"e":0.9},{"p":0.38,"f":-0.74,"e":0.8},{"p":0.38,"f":-0.18,"e":0.8},{"p":0.383,"f":0.46,"e":0.7},{"p":0.383,"f":0.03,"e":0.8},{"p":0.392,"f":0.39,"e":0.7},{"p":0.395,"f":-0.03,"e":0.8},{"p":0.396,"f":-0.33,"e":0.8},{"p":0.397,"f":-0.61,"e":0.7},{"p":0.401,"f":-0.12,"e":0.6},{"p":0.405,"f":0.44,"e":0.6},{"p":0.407,"f":-0.91,"e":0.7},{"p":0.407,"f":-1.44,"e":0.9},{"p":0.407,"f":-1.25,"e":0.8},{"p":0.411,"f":-0.12,"e":0.7},{"p":0.411,"f":-0.33,"e":0.8},{"p":0.415,"f":-0.33,"e":0.8},{"p":0.415,"f":-1.22,"e":0.7},{"p":0.415,"f":-0.14,"e":0.7},{"p":0.419,"f":-1.12,"e":0.8},{"p":0.425,"f":-0.12,"e":0.7},{"p":0.424,"f":-0.91,"e":0.6},{"p":0.426,"f":-0.97,"e":0.7},{"p":0.431,"f":-0.67,"e":0.7},{"p":0.432,"f":-1.2,"e":0.7},{"p":0.432,"f":-0.33,"e":0.7},{"p":0.436,"f":0.59,"e":0.6},{"p":0.439,"f":0.07,"e":0.7},{"p":0.441,"f":0.12,"e":0.8},{"p":0.442,"f":-0.65,"e":0.7},{"p":0.442,"f":-1.31,"e":0.8},{"p":0.443,"f":-0.84,"e":0.8},{"p":0.446,"f":-0.29,"e":0.7},{"p":0.446,"f":-1.31,"e":0.7},{"p":0.455,"f":-0.88,"e":0.7},{"p":0.457,"f":-1.35,"e":0.7},{"p":0.457,"f":-0.12,"e":0.7},{"p":0.46,"f":-1.06,"e":0.7},{"p":0.466,"f":-0.16,"e":0.7},{"p":0.469,"f":-1.78,"e":0.6},{"p":0.47,"f":-0.01,"e":0.7},{"p":0.47,"f":-0.46,"e":0.8},{"p":0.472,"f":-1.16,"e":0.8},{"p":0.474,"f":-0.71,"e":0.7},{"p":0.481,"f":-1.93,"e":0.6},{"p":0.482,"f":-0.18,"e":0.8},{"p":0.482,"f":0.25,"e":0.7},{"p":0.483,"f":1.78,"e":1.2},{"p":0.486,"f":-1.78,"e":0.7},{"p":0.487,"f":0.29,"e":0.8},{"p":0.487,"f":-0.12,"e":0.7},{"p":0.488,"f":-0.44,"e":0.7},{"p":0.488,"f":-0.76,"e":0.8},{"p":0.487,"f":-1.35,"e":0.7},{"p":0.49,"f":-1.06,"e":0.7},{"p":0.492,"f":0.33,"e":0.7},{"p":0.496,"f":0.01,"e":0.7},{"p":0.497,"f":-0.8,"e":0.7},{"p":0.499,"f":0.12,"e":0.8}
],
"box": [{"x1": -0.4852, "x2": -0.2226, "y1": -3.465, "y2": -5.94}],
"note": [{"x": -0.4798, "y": -3.934, "t": "ucb_284.5248-20.4135 \u00a0ZTF (BJD)\nP = 0.00602862 d\nP = 8.681209 min\nbls_power = 30.15\nN = 958"}]
},
"encoding": {
 "x": {"field": "p", "type": "quantitative", "scale": {"domain": [-0.5, 0.5], "nice": false, "zero": false}, "axis": {"values": [-0.4, -0.2, 0, 0.2, 0.4], "format": ".1f", "title": "Phase", "labelPadding": 8, "titlePadding": 7}},
 "y": {"field": "f", "type": "quantitative", "scale": {"domain": [-6.15, 6.58], "nice": false, "zero": false}, "axis": {"values": [-6, -4, -2, 0, 2, 4, 6], "title": "Normalized Flux", "labelPadding": 4, "titlePadding": 14}}
},
"layer": [
 {"data": {"name": "g"}, "mark": {"type": "errorbar", "color": "#008000", "opacity": 0.5, "thickness": 3, "clip": true}, "encoding": {"yError": {"field": "e"}}},
 {"data": {"name": "g"}, "mark": {"type": "point", "filled": true, "size": 26, "opacity": 0.75, "clip": true}, "encoding": {"color": {"datum": "g-band", "type": "nominal", "scale": {"domain": ["g-band", "r-band"], "range": ["#008000", "#ff0000"]}, "legend": {"title": null, "orient": "top-right", "offset": 8, "direction": "horizontal", "columns": 2, "columnPadding": 42, "labelFontSize": 17, "labelColor": "#000", "labelOffset": 21, "symbolSize": 441, "symbolType": "M-0.14,-1H0.14V1H-0.14Z M0,-0.24A0.24,0.24,0,1,1,0,0.24A0.24,0.24,0,1,1,0,-0.24Z", "symbolOpacity": 0.6, "symbolStrokeWidth": 0, "strokeColor": "#cccccc", "fillColor": "white", "cornerRadius": 3, "padding": 8}}}},
 {"data": {"name": "r"}, "mark": {"type": "errorbar", "color": "#ff0000", "opacity": 0.5, "thickness": 3, "clip": true}, "encoding": {"yError": {"field": "e"}}},
 {"data": {"name": "r"}, "mark": {"type": "point", "filled": true, "size": 26, "opacity": 0.75, "clip": true}, "encoding": {"color": {"datum": "r-band", "type": "nominal"}}},
 {"data": {"name": "box"}, "mark": {"type": "rect", "fill": "white", "fillOpacity": 0.8, "stroke": "#999999", "strokeWidth": 1}, "encoding": {"x": {"field": "x1", "type": "quantitative"}, "x2": {"field": "x2"}, "y": {"field": "y1", "type": "quantitative"}, "y2": {"field": "y2"}}},
 {"data": {"name": "note"}, "mark": {"type": "text", "font": "DejaVu Sans Mono", "fontSize": 17.3, "align": "left", "baseline": "alphabetic", "lineBreak": "\n", "lineHeight": 20.7, "color": "#000"}, "encoding": {"x": {"field": "x", "type": "quantitative"}, "y": {"field": "y", "type": "quantitative"}, "text": {"field": "t"}}}
]
}
